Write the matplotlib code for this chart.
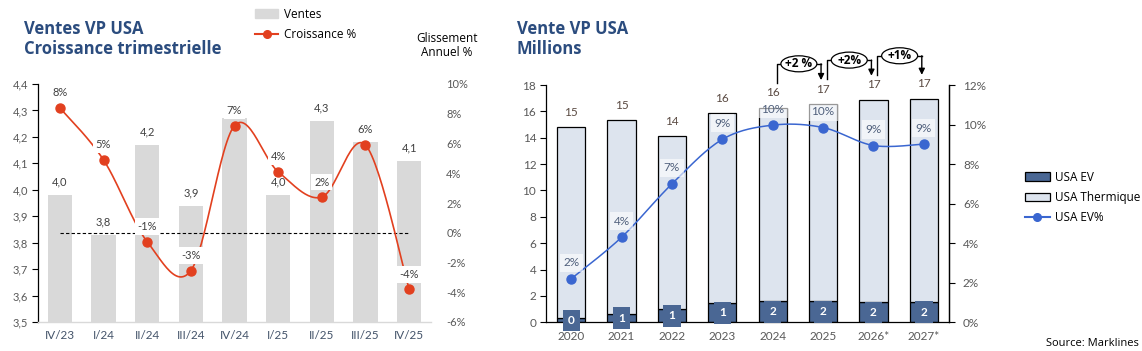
import numpy as np
import matplotlib
matplotlib.use('Agg')
import matplotlib.pyplot as plt
from matplotlib.patches import Patch, Ellipse
from matplotlib.lines import Line2D

# ---------------- data ----------------
quarters = ['IV/23', 'I/24', 'II/24', 'III/24', 'IV/24', 'I/25', 'II/25', 'III/25', 'IV/25']
ventes = [3.98, 3.83, 4.17, 3.94, 4.27, 3.98, 4.26, 4.18, 4.11]
croissance = [8.4, 4.9, -0.6, -2.55, 7.2, 4.1, 2.4, 5.9, -3.8]
ventes_label_hidden = ['IV/24', 'III/25']   # bar labels not shown in the reference

years = ['2020', '2021', '2022', '2023', '2024', '2025', '2026*', '2027*']
usa_total = [14.81, 15.34, 14.12, 15.87, 16.27, 16.55, 16.88, 16.95]
usa_ev = [0.30, 0.61, 0.99, 1.45, 1.59, 1.59, 1.51, 1.54]
usa_ev_pct = [2.2, 4.3, 7.0, 9.25, 9.97, 9.85, 8.94, 9.01]
growth_labels = ['+2 %', '+2%', '+1%']
growth_from = ['2024', '2025', '2026*']

# ---------------- style ----------------
BODY = ['Lato', 'DejaVu Sans']
HEAD = ['Open Sans', 'DejaVu Sans']
TITLE_C = '#2B4C7E'
TICK_C = '#595959'
XTICK_C = '#44546A'
RED = '#E2401F'
GREY_BAR = '#D9D9D9'
EV_C = '#4A6794'
TH_C = '#DDE4EE'
LINE_B = '#3A66D0'

plt.rcParams['font.family'] = BODY

W, H = 1142, 351
fig = plt.figure(figsize=(W / 100, H / 100), dpi=100)


def smooth(xs, ys, n=30):
    """Excel-like smoothed line (Bezier through the data points)."""
    xs = np.asarray(xs, float)
    ys = np.asarray(ys, float)
    P = np.column_stack([xs, ys])
    P = np.vstack([P[0], P, P[-1]])
    out = []
    for i in range(1, len(P) - 2):
        p0, p1, p2, p3 = P[i - 1], P[i], P[i + 1], P[i + 2]
        c1 = p1 + (p2 - p0) / 6
        c2 = p2 - (p3 - p1) / 6
        t = np.linspace(0, 1, n)[:, None]
        seg = ((1 - t) ** 3) * p1 + 3 * ((1 - t) ** 2) * t * c1 + 3 * (1 - t) * t ** 2 * c2 + t ** 3 * p2
        out.append(seg if i == 1 else seg[1:])
    out = np.vstack(out)
    return out[:, 0], out[:, 1]


# ================= LEFT CHART =================
ax1 = fig.add_axes([38 / W, 1 - 322 / H, (431 - 38) / W, (322 - 84) / H])
x1 = np.arange(len(quarters))
ax1.bar(x1, ventes, width=0.56, color=GREY_BAR, zorder=1)
ax1.set_xlim(-0.5, len(quarters) - 0.5)
ax1.set_ylim(3.5, 4.4)
yt = np.round(np.arange(3.5, 4.41, 0.1), 1)
ax1.set_yticks(yt)
ax1.set_yticklabels([f"{v:.1f}".replace('.', ',') for v in yt])
ax1.set_xticks(x1)
ax1.set_xticklabels(quarters)
ax1.tick_params(axis='y', colors='black', labelcolor=TICK_C, labelsize=8, length=4, width=0.8, pad=3)
ax1.tick_params(axis='x', length=0, labelcolor=XTICK_C, labelsize=8.5, pad=6)
for s in ['top', 'right']:
    ax1.spines[s].set_visible(False)
ax1.spines['left'].set_color('black')
ax1.spines['left'].set_linewidth(0.9)
ax1.spines['bottom'].set_color('#D9D9D9')
ax1.spines['bottom'].set_linewidth(1.0)
for xi, q, v in zip(x1, quarters, ventes):
    if q in ventes_label_hidden:
        continue
    ax1.annotate(f"{v:.1f}".replace('.', ','), (xi, v), xytext=(0, 13), textcoords='offset pixels',
                 ha='center', va='center', fontsize=8, color='#404040', zorder=3)

ax1t = ax1.twinx()
ax1t.set_ylim(-6, 10)
pt = np.arange(-6, 11, 2)
ax1t.set_yticks(pt)
ax1t.set_yticklabels([f"{v}%" for v in pt])
ax1t.tick_params(axis='y', length=0, labelcolor=TICK_C, labelsize=8, pad=11)
for s in ax1t.spines.values():
    s.set_visible(False)
ax1t.plot([x1[0], x1[-1]], [0, 0], ls=(0, (3, 2)), color='black', lw=0.8, zorder=2)
sx, sy = smooth(x1, croissance)
ax1t.plot(sx, sy, color=RED, lw=1.2, zorder=3)
ax1t.plot(x1, croissance, 'o', color=RED, ms=6.5, zorder=4)
for xi, v in zip(x1, croissance):
    ax1t.annotate(f"{round(v):.0f}%", (xi, v), xytext=(0, 15), textcoords='offset pixels',
                  ha='center', va='center', fontsize=8, color='#404040', zorder=5,
                  bbox=dict(boxstyle='square,pad=0.25', fc='white', ec='none'))

fig.text(24 / W, 1 - 39 / H, 'Ventes VP USA\nCroissance trimestrielle', fontsize=12, fontweight='bold',
         color=TITLE_C, ha='left', va='center', family=HEAD, linespacing=1.2)
fig.text(447 / W, 1 - 45 / H, 'Glissement\nAnnuel %', fontsize=8.5, color='black', ha='center', va='center',
         family=HEAD, linespacing=1.1)
fig.legend(handles=[Patch(color=GREY_BAR, label='Ventes'),
                    Line2D([0], [0], color=RED, lw=1.5, marker='o', ms=5.5, label='Croissance %')],
           loc='upper left', bbox_to_anchor=(250 / W, 1 - 3 / H), frameon=False,
           prop={'family': HEAD, 'size': 8.5}, handlelength=2.0, handletextpad=0.5,
           labelspacing=0.6, borderaxespad=0)

# ================= RIGHT CHART =================
ax2 = fig.add_axes([546 / W, 1 - 322.3 / H, (949 - 546) / W, (322.3 - 85) / H])
x2 = np.arange(len(years))
thermique = [t - e for t, e in zip(usa_total, usa_ev)]
ax2.bar(x2, usa_ev, width=0.56, color=EV_C, edgecolor='black', lw=0.9, zorder=2, label='USA EV')
ax2.bar(x2, thermique, bottom=usa_ev, width=0.56, color=TH_C, edgecolor='black', lw=0.9, zorder=2,
        label='USA Thermique')
ax2.set_xlim(-0.5, len(years) - 0.5)
ax2.set_ylim(0, 18)
ax2.set_yticks(np.arange(0, 19, 2))
ax2.set_xticks(x2)
ax2.set_xticklabels(years)
ax2.tick_params(axis='y', colors='black', labelcolor=TICK_C, labelsize=8.5, length=4, width=0.8, pad=3)
ax2.tick_params(axis='x', length=0, labelcolor=TICK_C, labelsize=8.5, pad=6)
ax2.spines['top'].set_visible(False)
for s in ['left', 'bottom', 'right']:
    ax2.spines[s].set_color('black')
    ax2.spines[s].set_linewidth(0.9)
for xi, t, e in zip(x2, usa_total, usa_ev):
    ax2.annotate(f"{round(t):.0f}", (xi, t), xytext=(0, 15), textcoords='offset pixels',
                 ha='center', va='center', fontsize=8.5, color='#5A4A42', zorder=3)
    ax2.annotate(f"{round(e + 1e-9):.0f}", (xi, e / 2), ha='center', va='center', fontsize=8.5,
                 color='white', fontweight='bold', zorder=6,
                 bbox=dict(boxstyle='square,pad=0.45', fc=EV_C, ec='none'), annotation_clip=False)

ax2t = ax2.twinx()
ax2t.set_ylim(0, 12)
ax2t.set_yticks(np.arange(0, 13, 2))
ax2t.set_yticklabels([f"{v}%" for v in range(0, 13, 2)])
ax2t.tick_params(axis='y', colors='black', labelcolor=TICK_C, labelsize=8.5, length=4, width=0.8, pad=6)
for s in ['top', 'left', 'bottom']:
    ax2t.spines[s].set_visible(False)
ax2t.spines['right'].set_color('black')
ax2t.spines['right'].set_linewidth(0.9)
sx, sy = smooth(x2, usa_ev_pct)
ax2t.plot(sx, sy, color=LINE_B, lw=1.1, zorder=3)
ax2t.plot(x2, usa_ev_pct, 'o', color=LINE_B, ms=6.5, zorder=4)
for xi, v in zip(x2, usa_ev_pct):
    ax2t.annotate(f"{round(v):.0f}%", (xi, v), xytext=(0, 16), textcoords='offset pixels',
                  ha='center', va='center', fontsize=8.5, color='#50607C', zorder=5,
                  bbox=dict(boxstyle='square,pad=0.3', fc='white', ec='none', alpha=0.6))

# growth brackets
fig.canvas.draw()
inv = ax2.transData.inverted()
px_x = 1.0 / (ax2.transData.transform((1, 0))[0] - ax2.transData.transform((0, 0))[0])
px_y = 1.0 / (ax2.transData.transform((0, 1))[1] - ax2.transData.transform((0, 0))[1])
for lab, frm in zip(growth_labels, growth_from):
    i = years.index(frm)
    j = i + 1
    xa = i + 0.08
    xb = j - 0.04
    ti = ax2.transData.transform((xa, usa_total[i]))
    tj = ax2.transData.transform((xb, usa_total[j]))
    yh = inv.transform((ti[0], ti[1] + 44))[1]
    yv = inv.transform((ti[0], ti[1] + 25))[1]
    ytip = inv.transform((tj[0], tj[1] + 24))[1]
    ax2.plot([xa, xa, xb], [yv, yh, yh], color='black', lw=1.0, clip_on=False, zorder=7)
    ax2.annotate('', xy=(xb, ytip), xytext=(xb, yh),
                 arrowprops=dict(arrowstyle='-|>', color='black', lw=1.0, mutation_scale=9,
                                 shrinkA=0, shrinkB=0), annotation_clip=False, zorder=7)
    xc = (xa + xb) / 2
    ax2.add_patch(Ellipse((xc, yh), width=36 * px_x, height=16 * px_y, fc='white', ec='black',
                          lw=0.9, clip_on=False, zorder=8))
    ax2.text(xc, yh, lab, ha='center', va='center', fontsize=8.5, fontweight='bold',
             family=HEAD, color='black', zorder=9, clip_on=False)

fig.text(517 / W, 1 - 39 / H, 'Vente VP USA\nMillions', fontsize=12, fontweight='bold',
         color=TITLE_C, ha='left', va='center', family=HEAD, linespacing=1.2)

fig.legend(handles=[Patch(fc=EV_C, ec='black', lw=0.9, label='USA EV'),
                    Patch(fc=TH_C, ec='black', lw=0.9, label='USA Thermique'),
                    Line2D([0], [0], color=LINE_B, lw=1.5, marker='o', ms=5.5, label='USA EV%')],
           loc='upper left', bbox_to_anchor=(1020 / W, 1 - 166 / H), frameon=False,
           prop={'family': HEAD, 'size': 8.5}, handlelength=2.1, handletextpad=0.5,
           labelspacing=0.6, borderaxespad=0)

fig.text(1139 / W, 1 - 344 / H, 'Source: Marklines', fontsize=8, ha='right', va='center',
         family=HEAD, color='black')

fig.savefig('out.png', dpi=100)
